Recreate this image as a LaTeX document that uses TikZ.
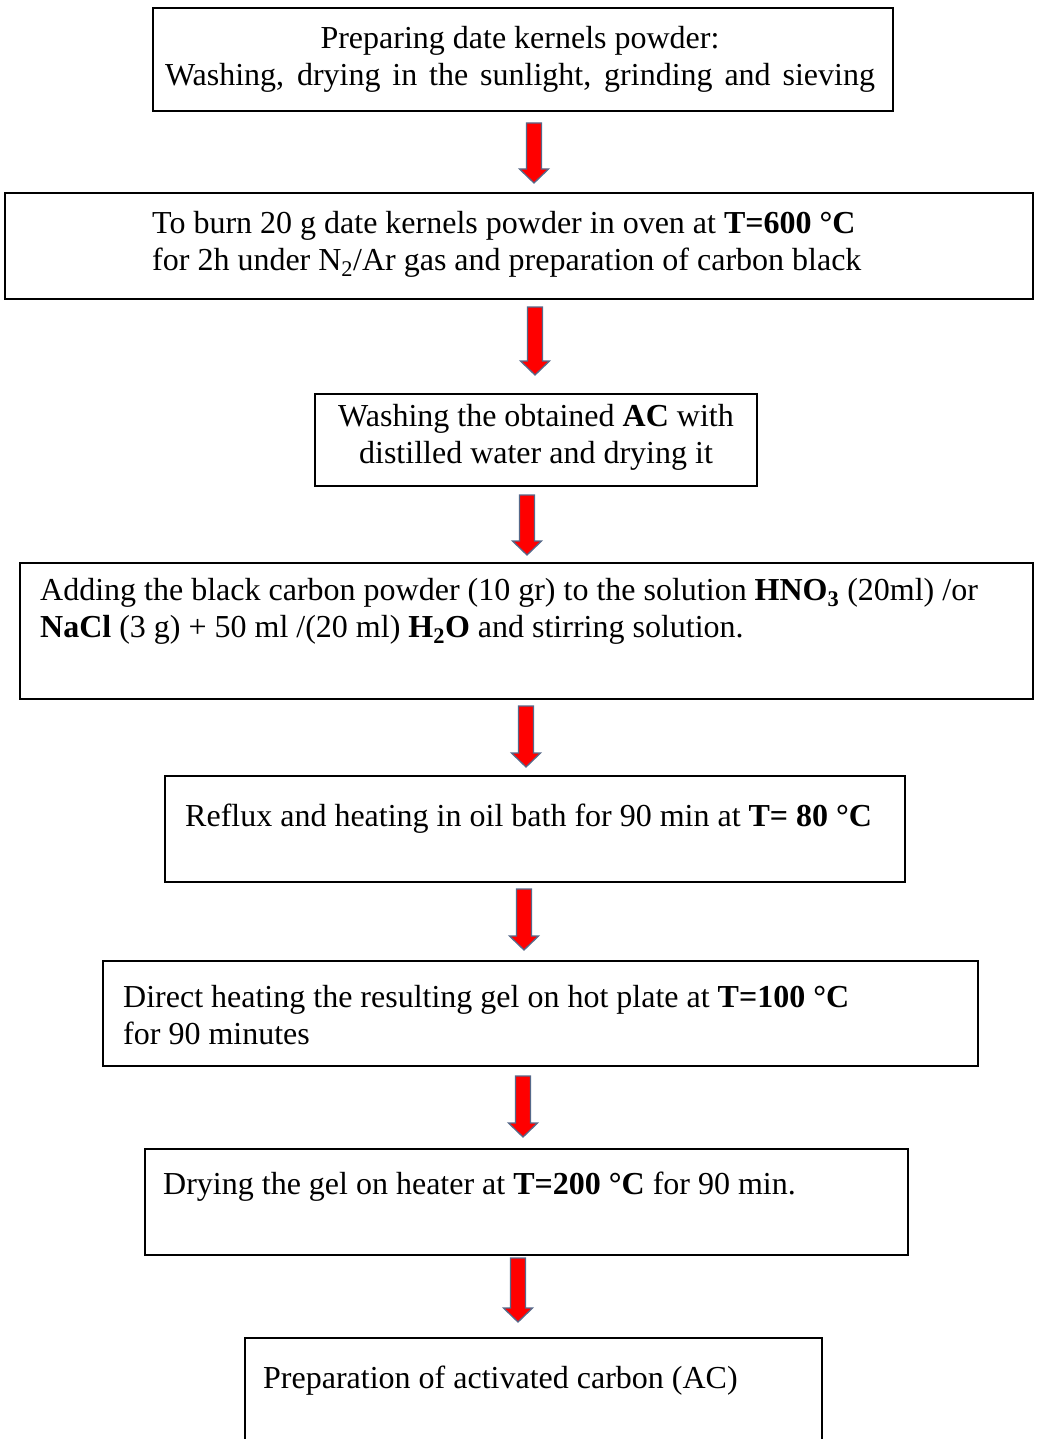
\documentclass[tikz,border=0pt]{standalone}
\usepackage{fontspec}
\setmainfont{Liberation Serif}
\usetikzlibrary{calc}
\definecolor{arrowred}{HTML}{FF0000}
\definecolor{arrowedge}{HTML}{56698A}
\tikzset{
  stepbox/.style={draw=black, line width=2.5pt, inner sep=0pt, outer sep=0pt, anchor=north west},
  steptext/.style={inner sep=0pt, font=\fontsize{32}{37}\selectfont},
  flowarrow/.style={fill=arrowred, draw=arrowedge, line width=1.3pt, line join=miter,
    to path={let \p1=(\tikztostart), \p2=(\tikztotarget) in
      (\x1-7.5pt,\y1) -- (\x1+7.5pt,\y1) -- (\x1+7.5pt,\y2+14pt) -- (\x1+14.5pt,\y2+14pt)
      -- (\x1,\y2) -- (\x1-14.5pt,\y2+14pt) -- (\x1-7.5pt,\y2+14pt) -- cycle}}
}
\begin{document}
\begin{tikzpicture}[x=1pt,y=1pt]
\useasboundingbox (0,0) rectangle (1037,-1439);
\clip (0,0) rectangle (1037,-1439);
% boxes
\node[stepbox, minimum width=740pt, minimum height=103pt] (b1) at (153,-8) {};
\node[stepbox, minimum width=1028pt, minimum height=106pt] (b2) at (5,-193) {};
\node[stepbox, minimum width=442pt, minimum height=92pt] (b3) at (315,-394) {};
\node[stepbox, minimum width=1013pt, minimum height=136pt] (b4) at (20,-563) {};
\node[stepbox, minimum width=740pt, minimum height=106pt] (b5) at (165,-776) {};
\node[stepbox, minimum width=875pt, minimum height=105pt] (b6) at (103,-961) {};
\node[stepbox, minimum width=763pt, minimum height=106pt] (b7) at (145,-1149) {};
\node[stepbox, minimum width=577pt, minimum height=150pt] (b8) at (245,-1338) {};
% texts
\node[steptext, anchor=north, align=center] (t1) at (520,-26)
  {Preparing date kernels powder:\\\makebox[710pt][s]{Washing, drying in the sunlight, grinding and sieving}};
\node[steptext, anchor=north west, align=left] (t2) at (152,-211)
  {To burn 20 g date kernels powder in oven at \textbf{T=600 °C}\\for 2h under N\textsubscript{2}/Ar gas and preparation of carbon black};
\node[steptext, anchor=north, align=center] (t3) at (536,-404)
  {Washing the obtained \textbf{AC} with\\distilled water and drying it};
\node[steptext, anchor=north west, align=left] (t4) at (40,-578)
  {Adding the black carbon powder (10 gr) to the solution \textbf{HNO\textsubscript{3}} (20ml) /or\\\textbf{NaCl} (3 g) + 50 ml /(20 ml) \textbf{H\textsubscript{2}O} and stirring solution.};
\node[steptext, anchor=north west, align=left] (t5) at (185,-804)
  {Reflux and heating in oil bath for 90 min at \textbf{T= 80 °C}};
\node[steptext, anchor=north west, align=left] (t6) at (123,-985)
  {Direct heating the resulting gel on hot plate at \textbf{T=100 °C}\\for 90 minutes};
\node[steptext, anchor=north west, align=left] (t7) at (163,-1172)
  {Drying the gel on heater at \textbf{T=200 °C} for 90 min.};
\node[steptext, anchor=north west, align=left] (t8) at (263,-1366)
  {Preparation of activated carbon (AC)};
% arrows
\path[flowarrow] ([xshift=11pt,yshift=-12pt]b1.south) to ([yshift=10pt]b2.north);
\path[flowarrow] ([xshift=16pt,yshift=-8pt]b2.south) to ([yshift=19pt]b3.north);
\path[flowarrow] ([xshift=-9pt,yshift=-9pt]b3.south) to ([yshift=8pt]b4.north);
\path[flowarrow] ([xshift=-0.5pt,yshift=-7pt]b4.south) to ([yshift=9pt]b5.north);
\path[flowarrow] ([xshift=-11pt,yshift=-7pt]b5.south) to ([yshift=11pt]b6.north);
\path[flowarrow] ([xshift=-17.5pt,yshift=-10pt]b6.south) to ([yshift=12pt]b7.north);
\path[flowarrow] ([xshift=-8.5pt,yshift=-3pt]b7.south) to ([yshift=16pt]b8.north);
\end{tikzpicture}
\end{document}
